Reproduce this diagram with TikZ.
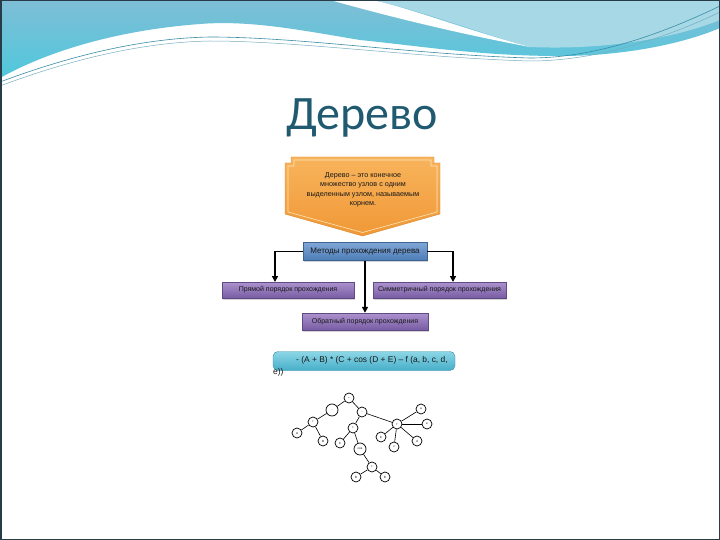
\documentclass[tikz,border=0pt]{standalone}
\usepackage{fontspec}
\setmainfont{Liberation Sans}
\newfontfamily\titlefont{Carlito}
\usetikzlibrary{arrows.meta,shadows}
\definecolor{titleblue}{RGB}{31,90,112}
\definecolor{wavedark}{RGB}{126,190,214}
\definecolor{wavelight}{RGB}{166,216,230}
\definecolor{wavecyan}{RGB}{80,200,220}
\definecolor{waveline}{RGB}{58,140,165}
\definecolor{framecol}{RGB}{40,60,72}
\definecolor{orangetop}{RGB}{248,180,92}
\definecolor{orangebot}{RGB}{240,152,54}
\definecolor{orangeline}{RGB}{252,228,184}
\definecolor{bluetop}{RGB}{128,166,214}
\definecolor{bluebot}{RGB}{76,124,182}
\definecolor{purpletop}{RGB}{172,146,206}
\definecolor{purplebot}{RGB}{120,92,164}
\definecolor{cyantop}{RGB}{140,214,230}
\definecolor{cyanbot}{RGB}{70,174,200}
\begin{document}
\begin{tikzpicture}[x=1pt,y=-1pt,
  boxtext/.style={font=\fontsize{7}{8}\selectfont, text=black!90},
  methodbox/.style={boxtext, draw=bluebot!80!black, line width=0.4pt,
    top color=bluetop, bottom color=bluebot, inner sep=0pt,
    drop shadow={opacity=0.35, shadow xshift=1pt, shadow yshift=-1.5pt}},
  orderbox/.style={boxtext, draw=purplebot!80!black, line width=0.4pt,
    top color=purpletop, bottom color=purplebot, inner sep=0pt,
    drop shadow={opacity=0.35, shadow xshift=1pt, shadow yshift=-1.5pt}},
  conn/.style={line width=1.6pt, -{Triangle[width=6pt,length=6pt]}},
  leaf/.style={circle, draw, line width=0.7pt, fill=white, minimum size=10pt,
    inner sep=0pt, font=\fontsize{3}{3}\selectfont},
  bigleaf/.style={leaf, minimum size=12pt}]
\useasboundingbox (0,0) rectangle (720,540);
%background
\fill[white] (0,0) rectangle (720,540);
%waves
\shade[top color=wavedark, bottom color=wavecyan] (0,0) -- (720,0) -- (720,28)
  .. controls (680,45) and (620,56) .. (560,56)
  .. controls (480,56) and (420,46) .. (360,40)
  .. controls (300,30) and (250,20) .. (200,24)
  .. controls (120,30) and (50,50) .. (0,78) -- cycle;
\fill[wavelight] (372,0) -- (720,0) -- (720,20)
  .. controls (670,40) and (600,50) .. (530,47)
  .. controls (470,30) and (420,10) .. (372,0) -- cycle;
\fill[white] (330,0) .. controls (380,14) and (450,32) .. (530,47)
  .. controls (460,28) and (410,8) .. (372,0) -- cycle;
\draw[waveline, line width=0.6pt] (0,82) .. controls (80,52) and (150,38) .. (210,37)
  .. controls (300,37) and (420,55) .. (530,58)
  .. controls (600,58) and (670,30) .. (720,6);
\draw[waveline!70, line width=0.5pt] (0,86) .. controls (80,56) and (150,42) .. (210,41)
  .. controls (300,41) and (420,58) .. (530,61)
  .. controls (600,61) and (670,36) .. (720,12);
%title
\node[font=\fontsize{48}{48}\selectfont\titlefont, text=titleblue, anchor=base]
  (title) at (362,130) {Дерево};
%definition plaque
\shade[top color=orangetop, bottom color=orangebot, draw=orangebot!90!black, line width=0.4pt]
  (291,157) -- (434,157) -- (434,163) -- (440,163) -- (440,214) -- (362.5,236)
  -- (285,214) -- (285,163) -- (291,163) -- cycle;
\draw[orangeline, line width=0.6pt]
  (294,160) -- (431,160) -- (431,166) -- (437,166) -- (437,212) -- (362.5,232.5)
  -- (288,212) -- (288,166) -- (294,166) -- cycle;
\node[boxtext, align=center, font=\fontsize{7.2}{9.5}\selectfont] (def) at (363,190)
  {Дерево – это конечное\\множество узлов с одним\\выделенным узлом, называемым\\корнем.};
%methods
\node[methodbox, font=\fontsize{8}{9}\selectfont, minimum width=124pt, minimum height=18pt]
  (methods) at (365,251.5) {Методы прохождения дерева};
\node[orderbox, minimum width=132pt, minimum height=16pt] (pre) at (288,290)
  {Прямой порядок прохождения};
\node[orderbox, minimum width=133pt, minimum height=16pt] (sym) at (439.5,290)
  {Симметричный порядок прохождения};
\node[orderbox, minimum width=126pt, minimum height=17pt] (post) at (365,321.5)
  {Обратный порядок прохождения};
\coordinate (lft) at (275,282);
\coordinate (rgt) at (453,282);
\draw[conn] (methods.west) -| (lft);
\draw[conn] (methods.east) -| (rgt);
\draw[conn] (methods.south) -- (post.north);
%expression
\node[draw=cyanbot!80!black, line width=0.4pt, top color=cyantop, bottom color=cyanbot,
  rounded corners=5pt, minimum width=182pt, minimum height=19pt, inner sep=0pt]
  (expr) at (364,361) {};
\node[boxtext, font=\fontsize{8.4}{9}\selectfont, anchor=west, inner sep=0pt] (exprA)
  at (296,360) {- (A + B) * (C + cos (D + E) – f (a, b, c, d,};
\node[boxtext, font=\fontsize{8.4}{9}\selectfont, anchor=west, inner sep=0pt] (exprB)
  at (273,372) {e))};
%tree
\foreach \n/\x/\y/\t in {r/349/398/*, p1/313/422/+, A/297/433/A, B/323/441/B,
    m2/362/412/-, p2/353/428/+, C/340/443/C, p3/372/467/+, D/356/477/D, E/385/477/E,
    f/397/424/f, a/421/409/a, b/381/437/b, c/394/447/c, d/417/441/d, e/427/424/e}
  \node[leaf] (\n) at (\x,\y) {\t};
\node[bigleaf] (m1) at (332,410) {-};
\node[bigleaf] (cs) at (360,449) {cos};
\foreach \u/\v in {r/m1, r/m2, m1/p1, p1/A, p1/B, m2/p2, m2/f, p2/C, p2/cs,
    cs/p3, p3/D, p3/E, f/a, f/b, f/c, f/d, f/e}
  \draw[line width=0.6pt] (\u) -- (\v);
%frame
\draw[framecol, line width=1.5pt] (0.75,0.75) rectangle (719.25,539.25);
\end{tikzpicture}
\end{document}
